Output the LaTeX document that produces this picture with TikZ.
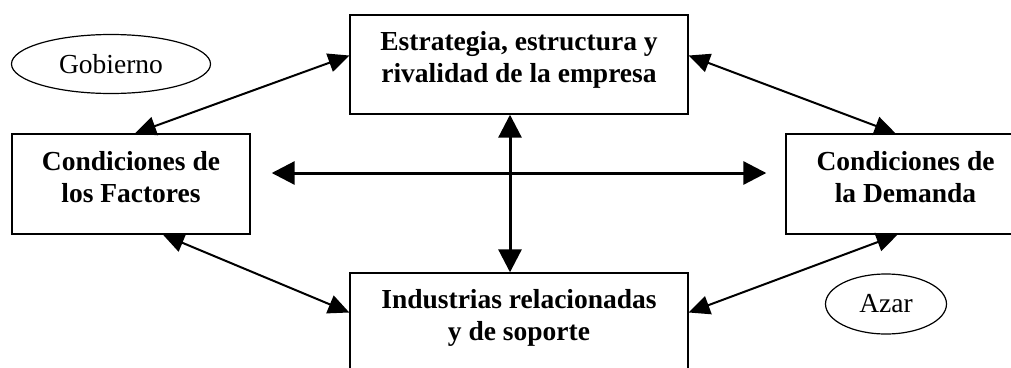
\documentclass[tikz,border=0pt]{standalone}
\usepackage{fontspec}
\setmainfont{Liberation Serif}
\usetikzlibrary{arrows.meta,shapes.geometric,calc}
\newcommand{\mytop}{\rule{0pt}{19pt}}
\newcommand{\mybot}{\rule[-15pt]{0pt}{15pt}}
\tikzset{
  boxnode/.style={draw=black,line width=1.4pt,rectangle,align=center,
    font=\fontsize{27.5}{32}\selectfont\bfseries,inner sep=0pt},
  ovalnode/.style={draw=black,line width=1.2pt,ellipse,inner sep=0pt,
    font=\fontsize{27.5}{32}\selectfont},
  crossarrow/.style={line width=3pt,{Triangle[length=23pt,width=23pt]}-{Triangle[length=23pt,width=23pt]}},
  diagarrow/.style={line width=2pt,{Triangle[length=21pt,width=19pt]}-{Triangle[length=21pt,width=19pt]}}
}
\begin{document}
\begin{tikzpicture}[x=1pt,y=-1pt]
\useasboundingbox (0,0) rectangle (1011,367);
\clip (0,0) rectangle (1011,367);
\fill[white] (0,0) rectangle (1011,367);
\node[boxnode,minimum width=338pt,minimum height=99pt] (est) at (519,64.5)
  {\mytop Estrategia, estructura y\\rivalidad de la empresa\mybot};
\node[boxnode,minimum width=238pt,minimum height=100pt] (fac) at (131,184)
  {\mytop Condiciones de\\los Factores\mybot};
\node[boxnode,minimum width=239pt,minimum height=100pt] (dem) at (905.5,184)
  {\mytop Condiciones de\\la Demanda\mybot};
\node[boxnode,minimum width=338pt,minimum height=99pt] (ind) at (519,322.5)
  {\mytop Industrias relacionadas\\y de soporte\mybot};
\node[ovalnode,minimum width=199pt,minimum height=59pt] (gob) at (111,64) {Gobierno};
\node[ovalnode,minimum width=121pt,minimum height=60pt] (azar) at (886,304) {Azar};
% diagonal arrows
\draw[diagarrow] ([xshift=4pt]fac.north) -- ([yshift=9pt]est.west);
\draw[diagarrow] ([yshift=9pt]est.east) -- ([xshift=-10pt]dem.north);
\draw[diagarrow] ([xshift=32pt]fac.south) -- ([yshift=10pt]ind.west);
\draw[diagarrow] ([xshift=-8pt]dem.south) -- ([yshift=10pt]ind.east);
% cross arrows
\draw[crossarrow] ([xshift=21pt,yshift=11pt]fac.east) -- ([xshift=-19pt,yshift=11pt]dem.west);
\draw[crossarrow] ([xshift=-9pt]est.south) -- ([xshift=-9pt]ind.north);
\end{tikzpicture}
\end{document}
